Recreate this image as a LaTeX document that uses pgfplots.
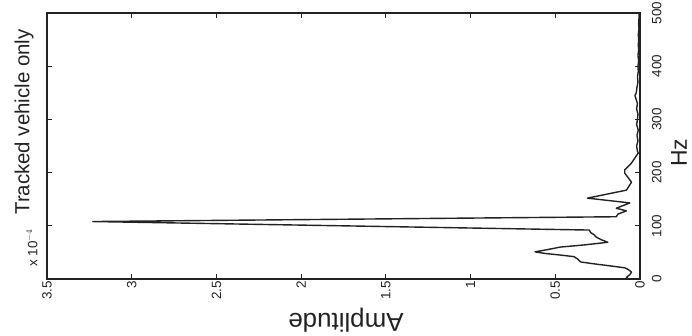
\documentclass[border=0pt]{standalone}
\usepackage{fontspec}
\setmainfont{Liberation Sans}
\usepackage{pgfplots}
\pgfplotsset{compat=1.18}
\usetikzlibrary{calc}
\definecolor{ink}{HTML}{222222}

% Spectrum of the tracked vehicle signal: (amplitude x 1e-4, frequency in Hz)
\pgfplotstableread{
amp    hz
0.07   0
0.08   3
0.06   8
0.05   13
0.07   18
0.09   21
0.16   24
0.26   28
0.35   32
0.37   38
0.39   42
0.47   45
0.56   48
0.62   51
0.55   55
0.47   60
0.33   64
0.19   69
0.23   74
0.26   79
0.27   83
0.29   87
0.30   92
3.23   108
0.14   117
0.13   122
0.08   128
0.14   133
0.10   138
0.06   143
0.31   152
0.08   167
0.05   182
0.09   199
0.09   205
0.05   218
0.01   237
0.015  240
0.02   250
0.012  260
0.018  270
0.01   280
0.02   290
0.015  300
0.012  310
0.02   320
0.015  330
0.025  340
0.03   345
0.022  350
0.018  360
0.012  370
0.015  380
0.01   390
0.012  400
0.008  410
0.012  420
0.008  430
0.01   440
0.008  450
0.01   460
0.006  470
0.008  480
0.006  490
0.005  500
}\spectrum

\begin{document}
\begin{tikzpicture}
\begin{axis}[
  name=ax,
  scale only axis,
  width=593bp, height=266bp,
  x dir=reverse,
  xmin=0, xmax=3.5, ymin=0, ymax=500,
  xtick={0,0.5,1,1.5,2,2.5,3,3.5},
  xticklabels={0,0.5,1,1.5,2,2.5,3,3.5},
  ytick={0,100,200,300,400,500},
  yticklabel pos=right,
  tick align=inside,
  major tick length=5bp,
  axis line style={ink, line width=1.4bp},
  every tick/.style={ink, line width=1.1bp},
  /pgf/number format/assume math mode=true,
  xticklabel style={rotate=90, anchor=east, font=\fontsize{13.5}{14}\selectfont, text=ink, inner sep=2bp},
  yticklabel style={rotate=90, anchor=north, font=\fontsize{13.5}{14}\selectfont, text=ink, inner sep=0pt, outer sep=0pt},
  yticklabel shift=12bp,
]
\addplot[ink, line width=1.4bp, line join=round] table[x=amp, y=hz] {\spectrum};
\end{axis}

\node[rotate=90, text=ink, font=\fontsize{20.5}{22}\selectfont]
  at ([shift={(-23bp,157bp)}]ax.south west) {Tracked vehicle only};
\node[rotate=90, text=ink, font=\fontsize{13.5}{14}\selectfont]
  at ([shift={(-15bp,31bp)}]ax.south west) {x 10$^{-4}$};
\node[rotate=180, text=ink, font=\fontsize{26}{28}\selectfont]
  at ([shift={(299bp,-41bp)}]ax.south west) {Amplitude};
\node[rotate=90, text=ink, font=\fontsize{23}{25}\selectfont]
  at ([shift={(632bp,126bp)}]ax.south west) {Hz};

\pgfresetboundingbox
\path[use as bounding box] ([shift={(-47bp,-57bp)}]ax.south west) rectangle ([shift={(52bp,13bp)}]ax.north east);
\end{tikzpicture}
\end{document}
